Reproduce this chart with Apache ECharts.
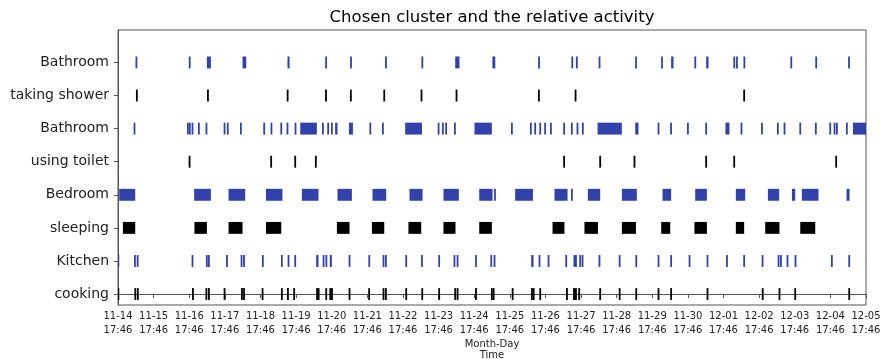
<!DOCTYPE html>
<html>
<head>
<meta charset="utf-8">
<script src="https://cdn.jsdelivr.net/npm/echarts@6/dist/echarts.min.js"></script>
<style>
  html, body { margin: 0; padding: 0; background: #fff; }
  #chart { width: 884px; height: 359px; }
</style>
</head>
<body>
<div id="chart"></div>
<script>
// Time is measured in hours since 11-14 17:46; each event is [start, end].

// Row labels, bottom to top
const rowLabels = ['cooking', 'Kitchen', 'sleeping', 'Bedroom', 'using toilet', 'Bathroom', 'taking shower', 'Bathroom'];

// Daily tick labels (one per 24 h)
const tickLabels = [
  '11-14', '11-15', '11-16', '11-17', '11-18', '11-19', '11-20', '11-21', '11-22', '11-23', '11-24',
  '11-25', '11-26', '11-27', '11-28', '11-29', '11-30', '12-01', '12-02', '12-03', '12-04', '12-05'
];
const tickTime = '17:46';

// Sensor / activity events
const bathroomVisitsA = [
  [12.0, 12.8], [48.0, 48.6], [59.9, 62.6], [83.9, 86.4], [114.2, 115.6], [139.8, 140.6], [156.6, 157.4],
  [180.1, 181.0], [204.7, 205.4], [227.2, 230.1], [252.3, 254.2], [283.2, 284.2], [305.8, 306.4],
  [308.8, 309.5], [324.1, 324.8], [348.7, 349.4], [366.2, 366.9], [372.7, 374.3], [388.6, 389.3],
  [396.3, 397.9], [414.9, 415.6], [416.7, 417.4], [421.5, 422.6], [453.3, 454.0], [469.9, 471.0],
  [492.1, 493.0]
];
const showerEvents = [
  [12.4, 13.0], [60.3, 60.9], [113.8, 114.8], [139.7, 140.6], [156.4, 157.4], [178.9, 179.9],
  [204.2, 204.8], [227.8, 228.4], [283.3, 283.9], [308.0, 308.6], [421.4, 422.4]
];
const bathroomVisitsB = [
  [10.8, 11.4], [46.8, 47.4], [48.1, 48.7], [49.6, 50.8], [54.2, 54.8], [59.3, 59.9], [71.5, 72.1],
  [73.5, 74.4], [82.5, 83.1], [98.2, 98.8], [103.1, 103.7], [109.7, 110.3], [113.9, 114.5],
  [119.3, 119.9], [122.8, 134.0], [137.8, 138.4], [141.3, 141.9], [143.8, 144.4], [146.3, 147.9],
  [155.6, 158.3], [169.5, 170.5], [178.2, 178.8], [193.5, 204.8], [215.7, 216.3], [218.6, 219.2],
  [220.8, 221.4], [226.7, 227.3], [240.2, 251.9], [264.9, 265.9], [277.9, 278.5], [280.8, 281.4],
  [284.2, 284.8], [287.5, 288.1], [291.4, 292.0], [300.3, 300.9], [305.5, 306.1], [309.3, 309.9],
  [312.9, 313.5], [323.1, 339.5], [348.5, 350.7], [363.9, 364.5], [372.1, 373.2], [383.7, 384.3],
  [396.0, 396.6], [409.3, 412.0], [419.8, 420.4], [433.6, 434.2], [444.3, 444.9], [448.8, 449.4],
  [459.4, 460.0], [469.9, 470.5], [479.6, 480.2], [482.5, 483.1], [484.1, 484.7], [490.8, 491.4],
  [495.2, 504.0]
];
const toiletEvents = [
  [47.9, 48.5], [102.9, 103.5], [119.1, 119.7], [133.0, 133.6], [300.3, 300.9], [324.6, 325.2],
  [347.7, 348.3], [396.0, 396.6], [414.9, 415.5], [483.6, 484.2]
];
const bedroomStays = [
  [0.8, 11.6], [51.3, 62.6], [74.5, 85.7], [99.7, 110.8], [123.9, 135.1], [147.9, 157.6], [171.5, 180.7],
  [196.4, 205.2], [219.3, 229.7], [243.4, 252.4], [253.6, 254.4], [267.6, 279.6], [294.1, 302.9],
  [305.5, 306.2], [316.6, 324.9], [339.5, 349.6], [366.9, 372.7], [388.9, 396.8], [416.3, 422.6],
  [437.9, 445.5], [454.1, 456.3], [460.8, 472.0], [490.9, 492.9]
];
const sleepEvents = [
  [3.3, 11.6], [51.5, 59.9], [74.5, 83.9], [99.7, 110.0], [147.5, 156.0], [171.1, 179.4], [195.7, 204.3],
  [219.3, 227.4], [243.4, 251.9], [292.8, 300.8], [314.3, 323.4], [339.5, 349.0], [366.0, 372.1],
  [388.4, 396.8], [416.3, 421.9], [436.1, 445.7], [459.7, 469.8]
];
const kitchenVisits = [
  [0.0, 0.5], [10.9, 11.9], [12.7, 13.8], [49.9, 50.5], [59.4, 60.3], [60.8, 61.7], [73.1, 73.7],
  [82.9, 83.6], [84.6, 85.2], [97.3, 97.9], [110.1, 110.7], [114.6, 115.2], [119.1, 119.7],
  [133.5, 135.1], [138.1, 138.9], [140.0, 140.8], [142.7, 144.1], [155.7, 156.3], [169.0, 169.6],
  [178.6, 179.2], [180.2, 180.8], [193.9, 194.5], [204.5, 205.1], [216.1, 216.7], [226.4, 227.0],
  [228.5, 229.1], [240.9, 241.5], [251.2, 251.8], [253.4, 254.0], [278.4, 280.0], [283.7, 284.3],
  [289.8, 290.4], [301.7, 302.3], [306.9, 309.2], [311.1, 311.7], [312.7, 313.3], [324.1, 324.7],
  [337.7, 338.3], [348.9, 349.5], [363.9, 364.5], [372.4, 373.0], [384.6, 385.6], [396.9, 397.5],
  [410.0, 410.6], [421.6, 422.2], [434.0, 434.6], [444.8, 445.4], [446.4, 447.0], [450.8, 451.4],
  [456.2, 456.8], [480.7, 481.3], [492.4, 493.0]
];
const cookingEvents = [
  [0.0, 0.5], [11.3, 12.0], [12.9, 13.8], [50.2, 50.8], [59.2, 59.9], [60.9, 61.6], [71.5, 72.1],
  [83.2, 83.8], [84.6, 85.2], [97.1, 97.7], [110.1, 110.7], [114.2, 114.8], [118.4, 119.0],
  [133.5, 135.8], [140.0, 140.6], [142.7, 143.3], [143.9, 144.5], [155.7, 156.3], [168.9, 169.5],
  [178.6, 179.2], [180.2, 180.8], [193.9, 194.5], [204.7, 205.3], [216.1, 216.7], [226.9, 227.5],
  [228.5, 229.1], [240.9, 241.5], [251.6, 252.2], [252.8, 253.4], [265.6, 266.2], [278.6, 279.2],
  [279.8, 280.4], [284.2, 284.8], [302.2, 302.8], [306.6, 309.2], [310.1, 311.4], [324.6, 325.2],
  [337.7, 338.3], [348.9, 349.5], [363.9, 364.5], [372.4, 373.0], [396.9, 397.5], [434.1, 434.7],
  [445.2, 446.2], [456.0, 456.6], [492.4, 493.0]
];

// Rows from bottom (0) to top (7) with their event lists and colours
const BLUE = '#3142ad';
const BLACK = '#000000';
const rows = [
  { events: cookingEvents, color: BLACK },
  { events: kitchenVisits, color: BLUE },
  { events: sleepEvents, color: BLACK },
  { events: bedroomStays, color: BLUE },
  { events: toiletEvents, color: BLACK },
  { events: bathroomVisitsB, color: BLUE },
  { events: showerEvents, color: BLACK },
  { events: bathroomVisitsA, color: BLUE }
];

const BAR_HEIGHT = 0.36;   // in row units
const MIN_PX = 1.8;        // short events still get a visible stroke

function renderItem(params, api) {
  const row = api.value(2);
  const p0 = api.coord([api.value(0), row]);
  const p1 = api.coord([api.value(1), row]);
  const h = api.size([0, BAR_HEIGHT])[1];
  let x = p0[0];
  let w = p1[0] - p0[0];
  if (w < MIN_PX) {
    x = (p0[0] + p1[0]) / 2 - MIN_PX / 2;
    w = MIN_PX;
  }
  const rect = echarts.graphic.clipRectByRect(
    { x: x, y: p0[1] - h / 2, width: w, height: h },
    { x: params.coordSys.x, y: params.coordSys.y, width: params.coordSys.width, height: params.coordSys.height }
  );
  return rect && {
    type: 'rect',
    shape: rect,
    style: { fill: api.visual('color') }
  };
}

const FONT = '"DejaVu Sans", "Liberation Sans", sans-serif';
const AXIS_GRAY = '#555';

const series = rows.map(function (r, i) {
  return {
    type: 'custom',
    name: rowLabels[i],
    renderItem: renderItem,
    itemStyle: { color: r.color },
    encode: { x: [0, 1], y: 2 },
    data: r.events.map(function (e) { return [e[0], e[1], i]; }),
    silent: true,
    animation: false
  };
});

const chart = echarts.init(document.getElementById('chart'), null, { renderer: 'canvas' });
chart.setOption({
  backgroundColor: '#fff',
  animation: false,
  grid: {
    left: 118, right: 18, top: 30, bottom: 54,
    show: true, borderColor: AXIS_GRAY, borderWidth: 1, backgroundColor: 'transparent'
  },
  xAxis: {
    type: 'value',
    min: 0, max: 504, interval: 24,
    splitLine: { show: false },
    axisLine: { show: true, lineStyle: { color: AXIS_GRAY, width: 1 } },
    axisTick: { show: true, inside: false, length: 4, lineStyle: { color: AXIS_GRAY } },
    axisLabel: {
      fontFamily: FONT, fontSize: 10, lineHeight: 14, color: '#222', margin: 4,
      showMinLabel: true, showMaxLabel: true,
      formatter: function (v) {
        const k = Math.round(v / 24);
        return tickLabels[k] + '\n' + tickTime;
      }
    }
  },
  yAxis: {
    type: 'value',
    min: -0.33, max: 7.98,
    splitLine: { show: false },
    axisLine: { show: true, lineStyle: { color: AXIS_GRAY, width: 1 } },
    axisTick: { show: true, length: 4, lineStyle: { color: AXIS_GRAY }, customValues: [0, 1, 2, 3, 4, 5, 6, 7] },
    axisLabel: {
      fontFamily: FONT, fontSize: 14, color: '#222', margin: 9,
      customValues: [0, 1, 2, 3, 4, 5, 6, 7],
      formatter: function (v) { return rowLabels[Math.round(v)]; }
    }
  },
  graphic: [
    {
      type: 'text', x: 492, y: 18,
      style: { text: 'Chosen cluster and the relative activity', font: '16.5px ' + FONT, fill: '#000', align: 'center', verticalAlign: 'middle' }
    },
    {
      type: 'text', x: 492, y: 350,
      style: { text: 'Month-Day\nTime', font: '10px ' + FONT, lineHeight: 11, fill: '#222', align: 'center', verticalAlign: 'middle' }
    }
  ],
  series: series
});
</script>
</body>
</html>
